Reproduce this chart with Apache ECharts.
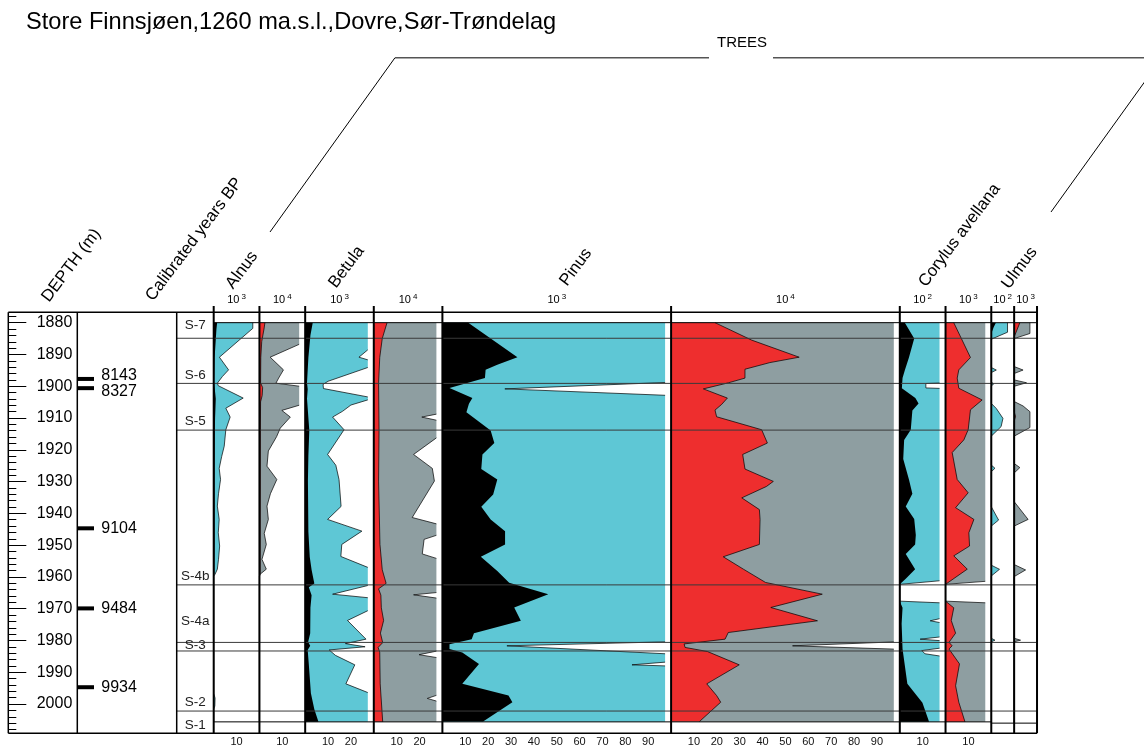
<!DOCTYPE html>
<html><head><meta charset="utf-8">
<script src="https://cdn.jsdelivr.net/npm/echarts@6/dist/echarts.min.js"></script>
<style>html,body{margin:0;padding:0;background:#fff}#c{width:1144px;height:747px}</style>
</head><body><div id="c"></div>
<script>
// ---------------- DATA ----------------
const depthMajor = [1880,1890,1900,1910,1920,1930,1940,1950,1960,1970,1980,1990,2000];
const calDepth = [1897.7, 1900.6, 1944.7, 1969.9, 1994.7];
const calLabel = ['8143', '8327', '9104', '9484', '9934'];
const zoneName = ['S-7','S-6','S-5','S-4b','S-4a','S-3','S-2','S-1'];
const zoneBoundary = [1884.9, 1899.1, 1913.8, 1962.5, 1980.6, 1983.3, 2002.2];
const zoneLabelDepth = [1880.7, 1896.7, 1911.0, 1959.8, 1973.8, 1981.6, 1999.5, 2006.6];
const sampleTop = 1880, sampleBottom = 2006;
const taxa = ['Alnus','Betula','Pinus','Corylus avellana','Ulmus'];
const scaleBase = ['10','10','10','10','10','10','10','10','10','10'];
const scaleExp = ['3','4','3','4','3','4','2','3','2','3'];

// curves: [depth, value]
const alnusA = [[1880,1.5],[1882,1.2],[1891,0.4],[1899,0.2],[1904,0.9],[1910,0.6],[1914,0.5],[1930,0.4],[1950,0.4],[1959,0.3],[1960,0],[2006,0]];
const alnusAx = [[1880,17.1],[1881.8,17.1],[1890.9,2.5],[1894.9,6.5],[1897,3.8],[1899.1,1.6],[1899.9,2],[1903.8,12.9],[1907,5.3],[1909.8,7.2],[1913.8,5.3],[1919,4.6],[1922.2,3.5],[1926,2.4],[1929.5,3],[1934,2.1],[1937.9,1.6],[1942.1,2.4],[1946.3,2],[1950.5,2.6],[1954.7,2.1],[1957.8,1.6],[1959.4,0.6],[1960,0],[1997,0],[1998.5,0.6],[2001,0.5],[2002,0],[2006,0]];
const alnusB = [[1880,2.4],[1882,2],[1886,1],[1891,0.6],[1899,0.5],[1900.5,1.4],[1903,1.2],[1905,0.5],[1914,0.4],[1959,0.3],[1960,0],[2006,0]];
const alnusBx = [[1880,20],[1886,20],[1890.9,4.7],[1894.9,10.5],[1897.5,8.4],[1899.1,7.2],[1900.3,20],[1905.5,20],[1907.7,9.8],[1909.8,13.5],[1913.3,9.1],[1916,7.5],[1920.5,3.9],[1925.3,3.3],[1929.5,7.6],[1934,4.8],[1937.9,3.3],[1942.1,3.9],[1946.5,2.1],[1950,3],[1954.7,1.1],[1957.8,3],[1959.4,0.3],[1960,0],[2006,0]];

const betulaA = [[1880,3.3],[1884,2.3],[1891,1.4],[1899,0.8],[1901,1.1],[1904,0.8],[1914,1.8],[1922,1.4],[1930,1.2],[1946,1.4],[1954,2],[1958,2.8],[1962.3,4],[1963.5,1.6],[1966,2.8],[1970,2.3],[1978,2.2],[1980.8,1.3],[1982,2.2],[1983.3,1.1],[1988,1.6],[1997,2.5],[2002,4],[2006,5.8]];
const betulaAx = [[1880,30],[1887,30],[1890.9,23.5],[1892.3,30],[1893.5,30],[1898.5,10],[1899.5,7.8],[1900.8,8],[1903.8,30],[1906,20],[1908,16.3],[1909.8,12],[1913.8,17],[1921.6,9.8],[1925,13.4],[1929.5,14.8],[1938,15.7],[1942.1,9.8],[1945.8,24.8],[1950,16],[1953.8,15.6],[1958,30],[1962.5,30],[1965.7,12],[1967,30],[1970,30],[1974,18.5],[1979.9,26.6],[1981.3,17.6],[1982.3,26.2],[1983.3,10.5],[1985,13.2],[1988,21.7],[1994,17.8],[1997.5,30],[2006,30]];
const betulaB = [[1880,5.8],[1885,3.7],[1891,2.6],[1899,2.1],[1914,2.3],[1930,2.1],[1950,2.7],[1958,3.7],[1962.3,5.4],[1964,2.1],[1966,3.1],[1970,3.3],[1974,4.3],[1978,2.9],[1981,3.9],[1982.5,1.9],[1984,2.6],[1994,2.8],[2006,3.9]];
const betulaBx = [[1880,30],[1908.5,30],[1909.8,21],[1911.2,30],[1915,30],[1921.6,17.4],[1926,25.6],[1930,26.5],[1941.5,16.8],[1944,30],[1946.5,30],[1948.4,22],[1953,21.2],[1955,30],[1965,30],[1965.9,17.4],[1967.2,30],[1983.3,30],[1984.8,19.8],[1986,30],[1997,30],[1998.6,23.4],[2000,30],[2006,30]];

const pinusA = [[1880,11.3],[1890.9,32.8],[1893.3,24],[1894.9,18.9],[1897.5,18.6],[1900.6,3.1],[1903.8,13.1],[1905.6,11.6],[1908.3,10.5],[1914,21.1],[1918,22.7],[1921.6,17.5],[1926.2,17],[1929.5,24],[1934.2,22.2],[1938.1,17],[1942.1,21.1],[1945.8,27.4],[1950,27.4],[1953.9,16.8],[1958.4,24],[1962.1,29.2],[1965.7,46.3],[1969.9,31.4],[1974.1,34.3],[1978,13.8],[1979.9,12.8],[1981.5,3.1],[1983,3.1],[1984.1,8.7],[1987.7,16],[1994,8.7],[1997.7,28.9],[1999.8,30.6],[2005.9,17.8]];
const pinusAx = [[1880,100],[1898.8,100],[1900.9,27.3],[1903,100],[1980.7,100],[1982,28.2],[1984.6,100],[1987,100],[1988,82.9],[1988.4,100],[2006,100]];
const pinusB = [[1880,19.2],[1885.5,35.2],[1890.9,56],[1892.6,43.2],[1894.7,32.3],[1897.5,32.3],[1899,25],[1900.9,14.1],[1903.8,24.6],[1905.8,22.1],[1907.6,19.2],[1909.7,19.9],[1913.8,39.6],[1918,42.1],[1921.6,31.3],[1926.2,32.3],[1930.1,44.7],[1931.7,41.7],[1935.3,30.9],[1939,38.6],[1942.1,38.9],[1950,38.6],[1953.9,22.8],[1957.8,31.6],[1962,41.3],[1965.7,66.1],[1969.9,43.6],[1974.1,64],[1977.8,25],[1979.9,23.6],[1981.4,5.7],[1982.5,6.1],[1983.8,15.9],[1988,29.8],[1994,15.6],[1997.7,19.9],[1999.8,21.7],[2005.9,12.4]];
const pinusBx = [[1880,100],[1980.7,100],[1982,53.1],[1983.1,100],[2006,100]];

const corylusA = [[1880,2.2],[1885,6.3],[1891,4],[1895,2.2],[1897.5,1.2],[1900.7,0.9],[1903.8,6.8],[1905.5,8.2],[1907.7,5.5],[1913.8,4.8],[1917,1.9],[1923,1.5],[1929.5,4],[1934,5.5],[1938,2.6],[1942,6.3],[1947,7],[1950,6.7],[1953,2.6],[1957.8,6.7],[1960.8,2.6],[1962.6,0],[1967.9,0],[1970,1.2],[1975,0.8],[1983,1.2],[1994,3.3],[2000,9.9],[2006,12.8]];
const corylusAx = [[1880,20],[1899,20],[1899.2,11.4],[1900.6,11.4],[1900.8,20],[1961.3,20],[1962.6,0],[1967.9,0],[1968.5,20],[1973,20],[1974.1,13.3],[1975,20],[1979,20],[1979.9,8.9],[1980.5,20],[1982.5,20],[1983.5,9.6],[1984.5,11],[1985.5,20],[2006,20]];
const corylusB = [[1880,3.6],[1891,10.9],[1894.9,5.8],[1897.5,5.1],[1900.7,5.8],[1904.4,16],[1907.5,10.9],[1913.8,9.9],[1917,8],[1921,2.9],[1929.5,5.1],[1933.7,9.9],[1938.4,4.4],[1942.1,12.4],[1946.3,10.2],[1950.5,10.5],[1953.6,3.6],[1957.8,9.5],[1962.6,0],[1967.9,0],[1970,3.6],[1974,2.5],[1978,4.4],[1980.9,1.5],[1982,2.9],[1983,1.5],[1987.7,6.1],[1994.6,4.4],[1999.8,5.8],[2006,8.5]];
const corylusBx = [[1880,20],[1961.5,20],[1962.6,0],[1967.9,0],[1968.5,20],[2006,20]];

const ulmusA = [[1880,2],[1881.5,1],[1883.5,0],[2006,0]];
const ulmusAx = [[1880,7.1],[1883,7.1],[1885.2,0],[1894.1,0],[1894.9,2.2],[1895.7,0],[1898.6,0],[1899.3,1],[1899.9,0],[1905.4,0],[1907,2.2],[1910.1,5.1],[1912.7,4.3],[1915.7,0],[1924.8,0],[1925.8,1.6],[1926.9,0],[1937.9,0],[1942.1,3.2],[1944,0],[1956.3,0],[1957.6,3.6],[1959.7,0],[1979.3,0],[1979.9,1.6],[1980.4,0],[2006,0]];
const ulmusB = [[1880,2.5],[1884.5,0],[1908,0],[1909.5,0.6],[1911,0],[2006,0]];
const ulmusBx = [[1880,6.9],[1883.4,6.9],[1885,0],[1893.8,0],[1894.9,3.9],[1896,0],[1898,0],[1898.9,5.4],[1900,0],[1904.8,0],[1906.2,3.9],[1908,6.9],[1913,6.9],[1915.7,0],[1924.3,0],[1925.6,2.5],[1927.3,0],[1936.3,0],[1941.9,6.1],[1944,0],[1956.1,0],[1957.8,5],[1959.9,0],[1979.3,0],[1979.9,2.8],[1980.4,0],[2006,0]];

// ---------------- LAYOUT / STYLE ----------------
const FONT = '"Liberation Sans", Arial, Helvetica, sans-serif';
const BLACK = '#000000', CYAN = '#5ec7d5', RED = '#ee2e2e', GRAY = '#8e9ea1';
const PX = 2.287, X0 = 213.7, TOP = 312.3, BOT = 733.3;
const YMIN = 1876.73, YMAX = 2009.2;
const CAP_GAP = 6;
const DEPTH_L = 8.3, CAL_L = 77.3, ZONE_L = 176.7;

const panelDefs = [
  {max:20, front:alnusA, back:alnusAx, fc:BLACK, bc:CYAN},
  {max:20, front:alnusB, back:alnusBx, fc:RED, bc:GRAY},
  {max:30, front:betulaA, back:betulaAx, fc:BLACK, bc:CYAN},
  {max:30, front:betulaB, back:betulaBx, fc:RED, bc:GRAY},
  {max:100, front:pinusA, back:pinusAx, fc:BLACK, bc:CYAN},
  {max:100, front:pinusB, back:pinusBx, fc:RED, bc:GRAY},
  {max:20, front:corylusA, back:corylusAx, fc:BLACK, bc:CYAN},
  {max:20, front:corylusB, back:corylusBx, fc:RED, bc:GRAY},
  {max:10, front:ulmusA, back:ulmusAx, fc:BLACK, bc:CYAN},
  {max:10, front:ulmusB, back:ulmusBx, fc:RED, bc:GRAY}
];
let xCursor = X0;
panelDefs.forEach((p, i) => { p.left = xCursor; p.width = p.max * PX; p.i = i; xCursor += p.width; });
const RIGHT = xCursor;

const grids = [], xAxes = [], yAxes = [], series = [];
function addGrid(left, width) {
  grids.push({left: left, top: TOP, width: width, height: BOT - TOP});
  return grids.length - 1;
}
function hiddenY(g) {
  return {type:'value', gridIndex:g, min:YMIN, max:YMAX, inverse:true, show:false};
}
function hiddenX(g, max) {
  return {type:'value', gridIndex:g, min:0, max:max, show:false};
}

function clipCurve(curve, cap) {
  const out = [];
  for (let i = 0; i < curve.length; i++) {
    const d = curve[i][0], v = curve[i][1];
    if (i > 0) {
      const pd = curve[i-1][0], pv = curve[i-1][1];
      if ((pv - cap) * (v - cap) < 0) {
        const t = (cap - pv) / (v - pv);
        out.push([pd + t * (d - pd), cap]);
      }
    }
    out.push([d, Math.min(v, cap)]);
  }
  return out;
}
function areaShapes(curve, cap, color, outline, api, out) {
  const c = clipCurve(curve, cap);
  const pts = [api.coord([0, c[0][0]])];
  c.forEach(q => pts.push(api.coord([q[1], q[0]])));
  pts.push(api.coord([0, c[c.length-1][0]]));
  out.push({type:'polygon', shape:{points:pts}, style:{fill:color, stroke:null}});
  if (!outline) return;
  let seg = [];
  const flush = () => { if (seg.length > 1) out.push({type:'polyline', shape:{points:seg}, style:{stroke:'#000', lineWidth:0.7, fill:null}}); seg = []; };
  for (let i = 1; i < c.length; i++) {
    const capped = c[i][1] >= cap - 1e-9 && c[i-1][1] >= cap - 1e-9;
    if (capped) { flush(); continue; }
    if (seg.length === 0) seg.push(api.coord([c[i-1][1], c[i-1][0]]));
    seg.push(api.coord([c[i][1], c[i][0]]));
  }
  flush();
}

// depth axis grid
const gDepth = addGrid(DEPTH_L, CAL_L - DEPTH_L);
xAxes.push(hiddenX(gDepth, 1));
const minorTicks = [];
for (let d = 1878; d <= 2008; d += 2) if (d % 10 !== 0) minorTicks.push(d);
yAxes.push({type:'value', gridIndex:gDepth, min:YMIN, max:YMAX, inverse:true, position:'left',
  axisLine:{show:false}, splitLine:{show:false},
  axisTick:{show:true, inside:true, length:18, customValues:depthMajor, lineStyle:{color:'#000', width:1}},
  axisLabel:{show:true, inside:true, customValues:depthMajor, align:'right', margin:64, fontSize:16, fontFamily:FONT, color:'#000',
    formatter: v => String(v)}
});
yAxes.push({type:'value', gridIndex:gDepth, min:YMIN, max:YMAX, inverse:true, position:'left',
  axisLine:{show:false}, splitLine:{show:false}, axisLabel:{show:false},
  axisTick:{show:true, inside:true, length:8, customValues:minorTicks, lineStyle:{color:'#000', width:1}}
});

// calibrated years grid
const gCal = addGrid(CAL_L, ZONE_L - CAL_L);
xAxes.push(hiddenX(gCal, 1));
yAxes.push(hiddenY(gCal));
const calShift = [-3, 3.5, 0, 0, 0];
series.push({type:'custom', xAxisIndex:xAxes.length-1, yAxisIndex:yAxes.length-1, silent:true, z:5,
  data: calDepth.map((d, i) => [0, d, i]), encode:{x:0, y:1},
  renderItem: (params, api) => {
    const i = api.value(2), y = api.coord([0, api.value(1)])[1], x = params.coordSys.x;
    return {type:'group', children:[
      {type:'rect', shape:{x:x, y:y-2, width:16.7, height:4}, style:{fill:'#000'}},
      {type:'text', x:x + 24, y:y + calShift[i], style:{text:calLabel[i], fontSize:16, fontFamily:FONT, fill:'#000', align:'left', verticalAlign:'middle'}}
    ]};
  }
});

// panels
panelDefs.forEach(p => {
  const g = addGrid(p.left, p.width);
  xAxes.push({type:'value', gridIndex:g, min:0, max:p.max, interval:10, position:'bottom',
    axisLine:{show:false}, axisTick:{show:false}, splitLine:{show:false},
    axisLabel:{show:true, margin:4, fontSize:11, fontFamily:FONT, color:'#111', showMinLabel:true, showMaxLabel:true,
      formatter: v => (v > 0 && v < p.max) ? String(v) : ''}});
  yAxes.push(hiddenY(g));
  const cap = p.max - CAP_GAP / PX;
  series.push({type:'custom', xAxisIndex:xAxes.length-1, yAxisIndex:yAxes.length-1, silent:true, z:2,
    data: p.front.map(q => [q[1], q[0]]), encode:{x:0, y:1},
    renderItem: (params, api) => {
      if (params.dataIndex !== 0) return null;
      const ch = [];
      areaShapes(p.back, cap, p.bc, true, api, ch);
      areaShapes(p.front, cap, p.fc, p.fc !== BLACK, api, ch);
      [sampleTop, sampleBottom].forEach(d => {
        const a = api.coord([0, d]), b = api.coord([p.max, d]);
        ch.push({type:'line', shape:{x1:a[0], y1:a[1], x2:b[0], y2:b[1]}, style:{stroke:'#000', lineWidth:1}});
      });
      return {type:'group', children:ch};
    }
  });
});

// zone overlay grid
const gZone = addGrid(ZONE_L, RIGHT - ZONE_L);
xAxes.push(hiddenX(gZone, 1));
yAxes.push(hiddenY(gZone));
series.push({type:'custom', xAxisIndex:xAxes.length-1, yAxisIndex:yAxes.length-1, silent:true, z:6,
  data: zoneBoundary.map(d => [0, d]), encode:{x:0, y:1},
  renderItem: (params, api) => {
    const a = api.coord([0, api.value(1)]), b = api.coord([1, api.value(1)]);
    return {type:'line', shape:{x1:a[0], y1:a[1], x2:b[0], y2:b[1]}, style:{stroke:'#3a3a3a', lineWidth:1}};
  }
});
series.push({type:'custom', xAxisIndex:xAxes.length-1, yAxisIndex:yAxes.length-1, silent:true, z:7,
  data: zoneLabelDepth.map((d, i) => [0, d, i]), encode:{x:0, y:1},
  renderItem: (params, api) => {
    const y = api.coord([0, api.value(1)])[1];
    return {type:'text', x:params.coordSys.x + (X0 - ZONE_L) / 2, y:y,
      style:{text:zoneName[api.value(2)], fontSize:13.5, fontFamily:FONT, fill:'#222', align:'center', verticalAlign:'middle'}};
  }
});

// ---------------- GRAPHIC (frame, headings) ----------------
const gr = [];
function ln(x1, y1, x2, y2, w, c) { gr.push({type:'line', silent:true, z:20, shape:{x1, y1, x2, y2}, style:{stroke:c || '#000', lineWidth:w}}); }
ln(DEPTH_L, TOP, RIGHT, TOP, 1.5);
ln(DEPTH_L, BOT, RIGHT, BOT, 1.5);
[DEPTH_L, CAL_L, ZONE_L].forEach(x => ln(x, TOP, x, BOT, 1.5));
ln(X0, 306, X0, BOT, 2);
panelDefs.forEach(p => ln(p.left + p.width, 306, p.left + p.width, BOT, 2));
panelDefs.forEach(p => gr.push({type:'text', z:20, x:p.left + p.width / 2, y:300,
  style:{text:'{b|' + scaleBase[p.i] + '}{s|' + scaleExp[p.i] + '}', align:'center', verticalAlign:'middle', fill:'#000',
    rich:{b:{fontSize:11, fontFamily:FONT, fill:'#000'}, s:{fontSize:8, fontFamily:FONT, fill:'#000', padding:[0,0,6,2]}}}}));

gr.push({type:'text', z:20, x:26, y:22, style:{text:'Store Finnsjøen,1260 ma.s.l.,Dovre,Sør-Trøndelag', fontSize:23.6, fontFamily:FONT, fill:'#000', align:'left', verticalAlign:'middle'}});
const ANG = 53 * Math.PI / 180;
const headLabels = [
  ['DEPTH (m)', 52, 305], ['Calibrated years BP', 156, 304],
  [taxa[0], 236, 292], [taxa[1], 339, 291], [taxa[2], 570, 289], [taxa[3], 929, 290], [taxa[4], 1012, 292]
];
headLabels.forEach(h => gr.push({type:'text', z:20, x:h[1], y:h[2], rotation:ANG,
  style:{text:h[0], fontSize:16.8, fontFamily:FONT, fill:'#000', align:'left', verticalAlign:'bottom'}}));

gr.push({type:'polyline', z:20, shape:{points:[[270,232],[395,57.7]]}, style:{stroke:'#000', lineWidth:1, fill:null}});
gr.push({type:'polyline', z:20, shape:{points:[[1051,212],[1162,57.7]]}, style:{stroke:'#000', lineWidth:1, fill:null}});
ln(395, 57.7, 709, 57.7, 1.5, '#555');
ln(773, 57.7, 1144, 57.7, 1.5, '#555');
gr.push({type:'text', z:20, x:742, y:43, style:{text:'TREES', fontSize:15, fontFamily:FONT, fill:'#000', align:'center', verticalAlign:'middle'}});

const chart = echarts.init(document.getElementById('c'));
chart.setOption({
  animation:false, backgroundColor:'#fff',
  grid:grids, xAxis:xAxes, yAxis:yAxes, series:series, graphic:{elements:gr}
});
</script>
</body></html>
